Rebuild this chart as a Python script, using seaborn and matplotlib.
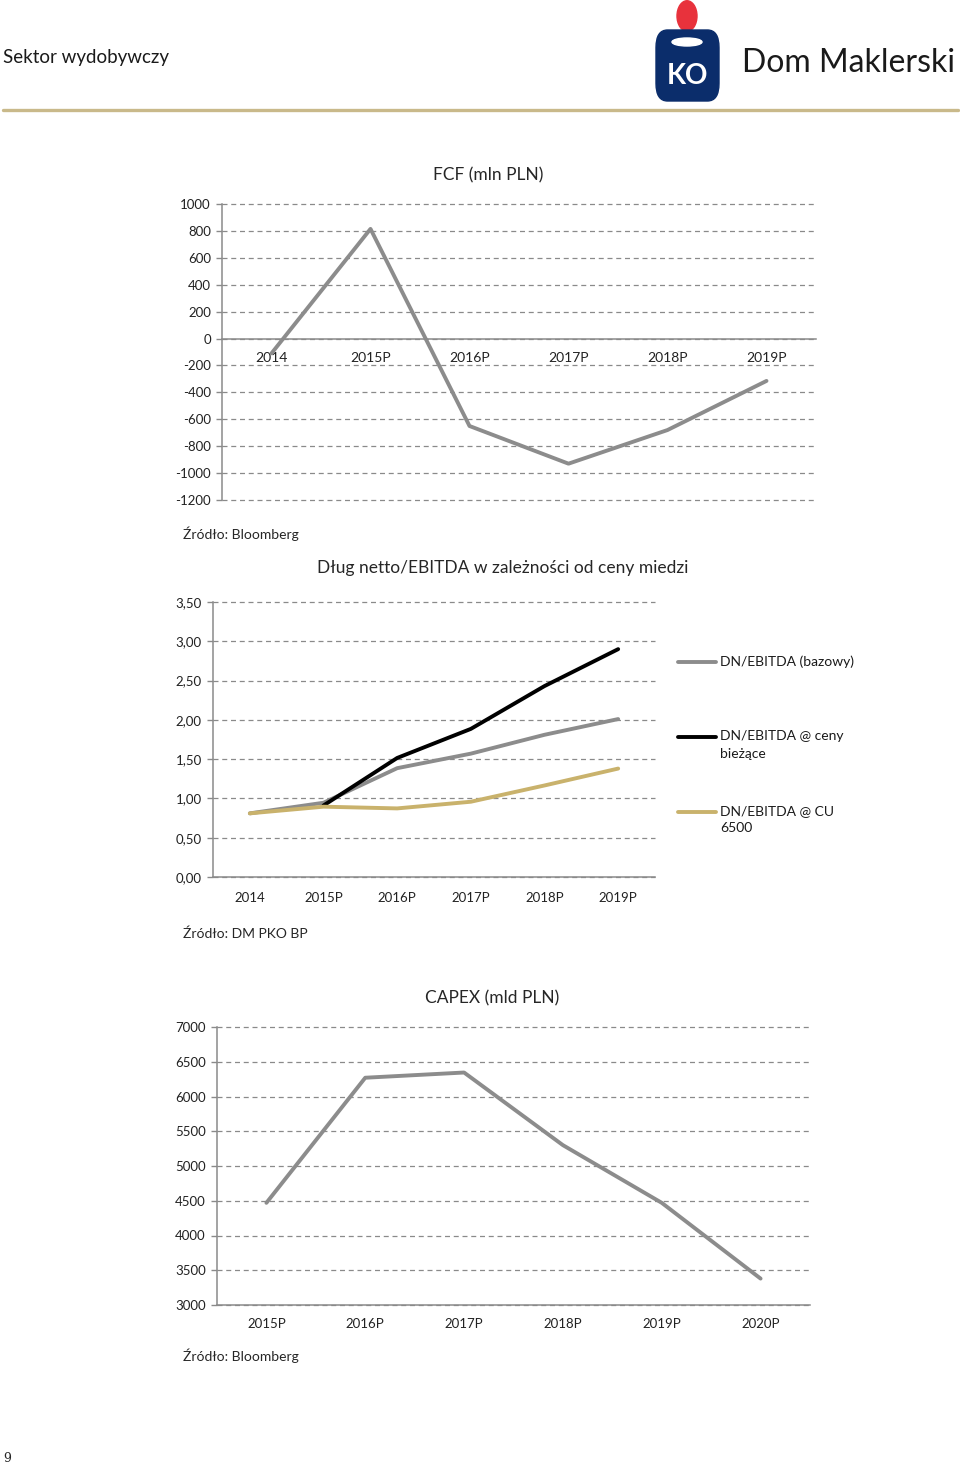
import numpy as np
import pandas as pd
import matplotlib.pyplot as plt
import seaborn as sns
from matplotlib.patches import Circle, FancyBboxPatch, Ellipse
from matplotlib.lines import Line2D

sns.set_style('white')
plt.rcParams['font.family'] = ['Lato', 'DejaVu Sans']

# FCF (mln PLN)
fcf_years = ['2014', '2015P', '2016P', '2017P', '2018P', '2019P']
fcf_values = [-110, 815, -650, -930, -680, -315]

# Dlug netto / EBITDA
dn_years = ['2014', '2015P', '2016P', '2017P', '2018P', '2019P']
dn_base = [0.81, 0.945, 1.385, 1.57, 1.81, 2.01]
dn_current = [np.nan, 0.91, 1.515, 1.885, 2.43, 2.90]
dn_cu6500 = [0.81, 0.895, 0.873, 0.958, 1.165, 1.38]
dn_series = ['DN/EBITDA (bazowy)', 'DN/EBITDA @ ceny\nbieżące', 'DN/EBITDA @ CU\n6500']

# CAPEX (mld PLN)
capex_years = ['2015P', '2016P', '2017P', '2018P', '2019P', '2020P']
capex_values = [4470, 6270, 6345, 5300, 4470, 3380]

GREY = '#8c8c8c'
GOLD = '#c9b26c'
AXIS = '#8a8a8a'
NARROW = ['Liberation Sans Narrow', 'Lato', 'DejaVu Sans']

W, H = 960, 1466
fig = plt.figure(figsize=(W / 100, H / 100), dpi=100)


def fx(px):
    return px / W


def fy(py):
    return 1 - py / H


def make_ax(x0, x1, y0, y1):
    return fig.add_axes([fx(x0), fy(y1), fx(x1) - fx(x0), fy(y0) - fy(y1)])


def style(ax, n, ymin, ymax, step, fmt, font, xpad=9, zero_axis=False):
    ax.set_xlim(-0.5, n - 0.5)
    ax.set_ylim(ymin, ymax)
    ticks = np.arange(ymin, ymax + step / 2, step)
    ax.set_yticks(ticks)
    ax.set_yticklabels([fmt(t) for t in ticks], family=font, fontsize=9.5)
    for t in ax.get_xticklabels():
        t.set_family(font)
        t.set_fontsize(9.5)
    ax.set_xlabel('')
    ax.set_ylabel('')
    ax.yaxis.grid(True, ls=(0, (4, 3)), color=AXIS, lw=0.9)
    for gl in ax.get_ygridlines():
        gl.set_clip_on(False)
    ax.xaxis.grid(False)
    ax.set_axisbelow(True)
    for s in ['top', 'right']:
        ax.spines[s].set_visible(False)
    for s in ['left', 'bottom']:
        ax.spines[s].set_color(AXIS)
        ax.spines[s].set_linewidth(1.1)
        ax.spines[s].set_visible(True)
    if zero_axis:
        ax.spines['bottom'].set_position(('data', 0))
    ax.set_xticks(np.arange(-0.5, n), minor=True)
    ax.tick_params(axis='x', which='major', length=0, pad=xpad, colors='#222222')
    ax.tick_params(axis='x', which='minor', length=4, width=1, color=AXIS, direction='out')
    ax.tick_params(axis='y', which='major', length=4, width=1, color=AXIS, pad=4,
                   labelcolor='#222222', left=True)


# --- header ---
fig.text(fx(3), fy(57), 'Sektor wydobywczy', fontsize=13.5, va='center', color='#1a1a1a')
fig.add_artist(Line2D([fx(3), fx(958)], [fy(110), fy(110)], transform=fig.transFigure,
                      color='#c9b98a', lw=2.4))
fig.add_artist(Circle((fx(687), fy(16)), fx(10), transform=fig.transFigure,
                      color='#e8323c', zorder=5))
fig.add_artist(FancyBboxPatch((fx(656), fy(101)), fx(63), fy(30) - fy(101),
                              boxstyle='round,pad=0,rounding_size=0.012',
                              transform=fig.transFigure, color='#0b2d6b', zorder=5))
fig.add_artist(Ellipse((fx(687), fy(42)), fx(30), fy(38) - fy(46),
                       transform=fig.transFigure, color='white', zorder=6))
fig.text(fx(687), fy(76), 'KO', fontsize=20, fontweight='bold', color='white',
         ha='center', va='center', family=NARROW, zorder=7)
fig.text(fx(742), fy(63), 'Dom Maklerski', fontsize=23, va='center', color='#1a1a1a')

# --- FCF ---
ax1 = make_ax(222, 816, 204, 500)
df1 = pd.DataFrame({'rok': fcf_years, 'fcf': fcf_values})
sns.lineplot(data=df1, x='rok', y='fcf', ax=ax1, color=GREY, lw=2.8, sort=False)
style(ax1, len(fcf_years), -1200, 1000, 200, lambda v: f'{int(v)}', NARROW,
      xpad=10, zero_axis=True)
fig.text(fx(488), fy(175), 'FCF (mln PLN)', fontsize=12.5, ha='center', va='center')
fig.text(fx(183), fy(534), 'Źródło: Bloomberg', fontsize=10, va='center')

# --- Dlug netto / EBITDA ---
ax2 = make_ax(213, 655, 602, 877)
df2 = pd.DataFrame({
    'rok': dn_years * 3,
    'val': dn_base + dn_current + dn_cu6500,
    'seria': [dn_series[0]] * 6 + [dn_series[1]] * 6 + [dn_series[2]] * 6,
})
palette = {dn_series[0]: GREY, dn_series[1]: '#000000', dn_series[2]: GOLD}
sns.lineplot(data=df2, x='rok', y='val', hue='seria', palette=palette, ax=ax2,
             lw=2.8, sort=False, legend=False)
style(ax2, len(dn_years), 0, 3.5, 0.5, lambda v: f'{v:.2f}'.replace('.', ','),
      ['Lato', 'DejaVu Sans'], xpad=11)
fig.text(fx(503), fy(568), 'Dług netto/EBITDA w zależności od ceny miedzi', fontsize=12.5,
         ha='center', va='center')

# legend, handle aligned with the first text line
for name, ly in zip(dn_series, [662, 737, 812]):
    fig.add_artist(Line2D([fx(678), fx(716)], [fy(ly), fy(ly)], transform=fig.transFigure,
                          color=palette[name], lw=2.8))
    fig.text(fx(720), fy(ly - 7), name, fontsize=10, va='top', ha='left',
             linespacing=1.55, color='#1a1a1a')
fig.text(fx(183), fy(934), 'Źródło: DM PKO BP', fontsize=10, va='center')

# --- CAPEX ---
ax3 = make_ax(217, 810, 1027, 1305)
df3 = pd.DataFrame({'rok': capex_years, 'capex': capex_values})
sns.lineplot(data=df3, x='rok', y='capex', ax=ax3, color=GREY, lw=2.8, sort=False)
style(ax3, len(capex_years), 3000, 7000, 500, lambda v: f'{int(v)}', NARROW, xpad=9)
fig.text(fx(492), fy(998), 'CAPEX (mld PLN)', fontsize=12.5, ha='center', va='center')
fig.text(fx(183), fy(1356), 'Źródło: Bloomberg', fontsize=10, va='center')

fig.text(fx(3), fy(1459), '9', fontsize=9, va='center', family=['DejaVu Serif'])

fig.savefig('out.png', dpi=100, facecolor='white')
